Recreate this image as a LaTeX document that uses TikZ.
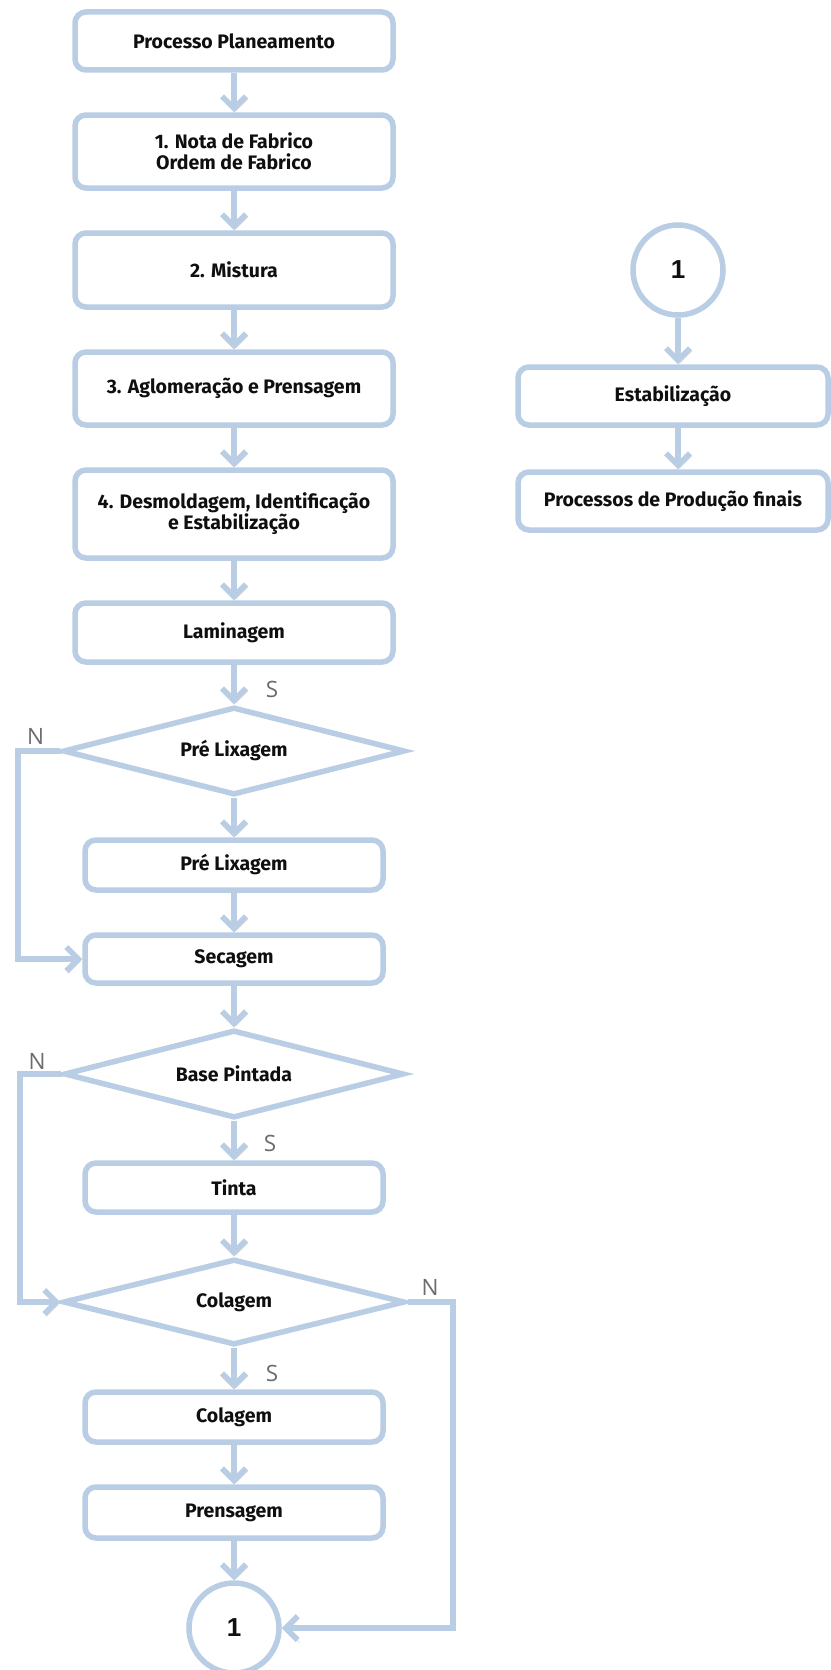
\documentclass[tikz,border=0pt]{standalone}
\usepackage{fontspec}
\setmainfont{Fira Sans}
\newfontfamily\numfont{Liberation Sans}[BoldFont={Liberation Sans Bold}]
\newfontfamily\lblfont{Open Sans}
\usetikzlibrary{shapes.geometric,arrows.meta}
\definecolor{edgec}{RGB}{185,205,229}
\definecolor{lblc}{RGB}{108,108,108}
\definecolor{txtc}{RGB}{15,15,15}
\definecolor{shadc}{RGB}{190,190,190}
\begin{document}
\begin{tikzpicture}[x=1pt,y=-1pt,
  box/.style={draw=edgec, line width=5.5pt, rounded corners=11pt, fill=white,
    font=\bfseries\fontsize{19.5}{21}\selectfont, text=txtc, align=center, inner sep=0pt},
  dec/.style={diamond, draw=edgec, line width=5.5pt, fill=white, shape aspect=3.9,
    inner sep=0pt, font=\bfseries\fontsize{19.5}{21}\selectfont, text=txtc},
  circ/.style={circle, draw=edgec, line width=5.5pt, fill=white, minimum size=90pt,
    inner sep=0pt, font=\numfont\bfseries\fontsize{26}{26}\selectfont, text=txtc},
  conn/.style={line width=5.5pt, -{Straight Barb[length=12pt,width=24pt]},
    preaction={draw=shadc, opacity=0.7, transform canvas={shift={(2pt,-2.5pt)}}},
    draw=edgec},
  yn/.style={font=\lblfont\fontsize{22.5}{22.5}\selectfont, text=lblc, inner sep=0pt}
]
\fill[white] (0,0) rectangle (830,1670);
\useasboundingbox (0,0) rectangle (830,1670);

\coordinate (L1) at (18,751);
\coordinate (L2) at (20,1074);
\coordinate (R3) at (453,1302);

% left column
\node[box, minimum width=318pt, minimum height=58pt] (b0) at (234,41) {Processo Planeamento};
\node[box, minimum width=318pt, minimum height=73pt] (b1) at (234,151.5) {1. Nota de Fabrico\\Ordem de Fabrico};
\node[box, minimum width=318pt, minimum height=74pt] (b2) at (234,270) {2. Mistura};
\node[box, minimum width=318pt, minimum height=73pt] (b3) at (234,388.5) {3. Aglomeração e Prensagem};
\node[box, minimum width=318pt, minimum height=88pt] (b4) at (234,514) {4. Desmoldagem, Identificação\\e Estabilização};
\node[box, minimum width=318pt, minimum height=59pt] (lam) at (234,632.5) {Laminagem};
\node[dec, minimum width=342pt, minimum height=88pt] (d1) at (234,751) {Pré Lixagem};
\node[box, minimum width=298pt, minimum height=50pt] (pl) at (234,865) {Pré Lixagem};
\node[box, minimum width=298pt, minimum height=48pt] (sec) at (234,959) {Secagem};
\node[dec, minimum width=340pt, minimum height=88pt] (d2) at (234,1074) {Base Pintada};
\node[box, minimum width=298pt, minimum height=49pt] (tin) at (234,1187.5) {Tinta};
\node[dec, minimum width=342pt, minimum height=86pt] (d3) at (234,1302) {Colagem};
\node[box, minimum width=298pt, minimum height=50pt] (col) at (234,1417) {Colagem};
\node[box, minimum width=298pt, minimum height=51pt] (pre) at (234,1512.5) {Prensagem};
\node[circ] (c1) at (234,1628) {1};

% right column
\node[circ] (c2) at (678,270) {1};
\node[box, minimum width=310pt, minimum height=58pt] (est) at (673,396) {Estabilização};
\node[box, minimum width=310pt, minimum height=58pt] (proc) at (673,501) {Processos de Produção finais};

% connectors
\draw[conn] (b0.south) -- (b1.north);
\draw[conn] (b1.south) -- (b2.north);
\draw[conn] (b2.south) -- (b3.north);
\draw[conn] (b3.south) -- (b4.north);
\draw[conn] (b4.south) -- (lam.north);
\draw[conn] (lam.south) -- (d1.north);
\draw[conn] (d1.south) -- (pl.north);
\draw[conn] (pl.south) -- (sec.north);
\draw[conn] (sec.south) -- (d2.north);
\draw[conn] (d2.south) -- (tin.north);
\draw[conn] (tin.south) -- (d3.north);
\draw[conn] (d3.south) -- (col.north);
\draw[conn] (col.south) -- (pre.north);
\draw[conn] (pre.south) -- (c1.north);
\draw[conn] (d1.west) -- (L1) |- (sec.west);
\draw[conn] (d2.west) -- (L2) |- (d3.west);
\draw[conn] (d3.east) -- (R3) |- (c1.east);
\draw[conn] (c2.south) -- (c2.south |- est.north);
\draw[conn] (c2.south |- est.south) -- (c2.south |- proc.north);

% labels
\node[yn] (s1) at (272,689) {S};
\node[yn] (n1) at (35.5,736) {N};
\node[yn] (n2) at (37,1061) {N};
\node[yn] (s2) at (270,1143) {S};
\node[yn] (n3) at (430,1287) {N};
\node[yn] (s3) at (272,1373) {S};
\end{tikzpicture}
\end{document}
